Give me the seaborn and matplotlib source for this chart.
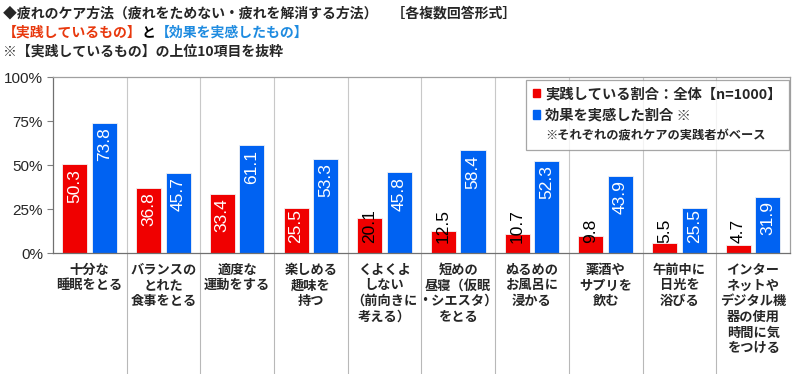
import matplotlib
matplotlib.use('Agg')
import matplotlib.pyplot as plt
import pandas as pd
import seaborn as sns
from matplotlib.patches import Patch

# data
categories = ['十分な\n睡眠をとる', 'バランスの\nとれた\n食事をとる', '適度な\n運動をする',
              '楽しめる\n趣味を\n持つ', 'くよくよ\nしない\n（前向きに\n考える）',
              '短めの\n昼寝（仮眠\n・シエスタ）\nをとる', 'ぬるめの\nお風呂に\n浸かる',
              '薬酒や\nサプリを\n飲む', '午前中に\n日光を\n浴びる',
              'インター\nネットや\nデジタル機\n器の使用\n時間に気\nをつける']
practice = [50.3, 36.8, 33.4, 25.5, 20.1, 12.5, 10.7, 9.8, 5.5, 4.7]
effect = [73.8, 45.7, 61.1, 53.3, 45.8, 58.4, 52.3, 43.9, 25.5, 31.9]
series = ['実践している割合：全体【n=1000】', '効果を実感した割合 ※']
note = '※それぞれの疲れケアの実践者がベース'
yticks = [0, 25, 50, 75, 100]

red = '#F00000'
blue = '#0062F2'

df = pd.DataFrame({
    'cat': categories * 2,
    'value': practice + effect,
    'series': [series[0]] * len(categories) + [series[1]] * len(categories),
})

sns.set_style('white')
plt.rcParams['font.family'] = ['Noto Sans CJK JP', 'DejaVu Sans']
plt.rcParams['font.weight'] = 'bold'

fig = plt.figure(figsize=(8, 3.74), dpi=100)
ax = fig.add_axes([0.066, 0.3235, 0.9215, 0.4705])

sns.barplot(data=df, x='cat', y='value', hue='series', order=categories,
            hue_order=series, palette=[red, blue], width=0.8, gap=0.15,
            saturation=1, ax=ax, legend=False, edgecolor='#f4f4f4',
            linewidth=0.6)

ax.set_xlim(-0.5, len(categories) - 0.5)
ax.set_ylim(0, 100)
ax.set_xlabel('')
ax.set_ylabel('')
ax.set_yticks(yticks)
ax.set_yticklabels([f'{t}%' for t in yticks], family='Liberation Sans',
                   fontsize=11, fontweight='normal')
ax.tick_params(axis='y', length=4, width=0.8, color='#808080', pad=3, left=True)
ax.set_xticks(range(len(categories)))
ax.set_xticklabels(categories, fontsize=9.5, fontweight='bold', linespacing=1.15,
                   va='top')
ax.tick_params(axis='x', length=0, pad=7)
for s in ax.spines.values():
    s.set_color('#a0a0a0')
    s.set_linewidth(0.9)
ax.spines['left'].set_color('#707070')
ax.spines['bottom'].set_color('#707070')

# group separators, running down through the label area
for k in range(1, len(categories)):
    ax.axvline(k - 0.5, ymin=0, ymax=1, color='#c8c8c8', lw=0.8, zorder=0)
    ax.axvline(k - 0.5, ymin=-0.69, ymax=0, color='#b8b8b8', lw=0.8,
               clip_on=False)

# value labels inside bars
for cont in ax.containers:
    for bar in cont:
        v = bar.get_height()
        x = bar.get_x() + bar.get_width() / 2
        if v >= 30:
            ax.text(x, v - 2.5, f'{v:.1f}', rotation=90, ha='center', va='top',
                    color='white', fontsize=12.5, family='Liberation Sans',
                    fontweight='normal')
        else:
            ax.text(x, 5.5, f'{v:.1f}', rotation=90, ha='center', va='bottom',
                    color='white' if v >= 25 else 'black', fontsize=12.5,
                    family='Liberation Sans', fontweight='normal')

handles = [Patch(color=red), Patch(color=blue), Patch(alpha=0)]
leg = ax.legend(handles, series + [note], loc='upper right',
                bbox_to_anchor=(0.9985, 0.982), borderaxespad=0,
                frameon=True, fancybox=False, fontsize=10.3,
                handlelength=0.5, handleheight=0.5, handletextpad=0.35,
                labelspacing=0.5, borderpad=0.5, edgecolor='#909090')
leg.get_frame().set_linewidth(0.9)
leg.get_texts()[2].set_fontsize(8.8)

# titles
fig.text(0.004, 0.963, '◆疲れのケア方法（疲れをためない・疲れを解消する方法）　［各複数回答形式］',
         fontsize=10, fontweight='bold', va='center')
fig.canvas.draw()
r = fig.canvas.get_renderer()
x0 = 0.004
for txt, col in [('【実践しているもの】', '#E8380D'), ('と', 'black'),
                 ('【効果を実感したもの】', '#1E8BE0')]:
    t = fig.text(x0, 0.912, txt, fontsize=10, fontweight='bold', color=col,
                 va='center')
    bb = t.get_window_extent(r)
    x0 += bb.width / fig.bbox.width
fig.text(0.004, 0.862, '※【実践しているもの】の上位10項目を抜粋',
         fontsize=10, fontweight='bold', va='center')

fig.savefig('out.png', dpi=100)
